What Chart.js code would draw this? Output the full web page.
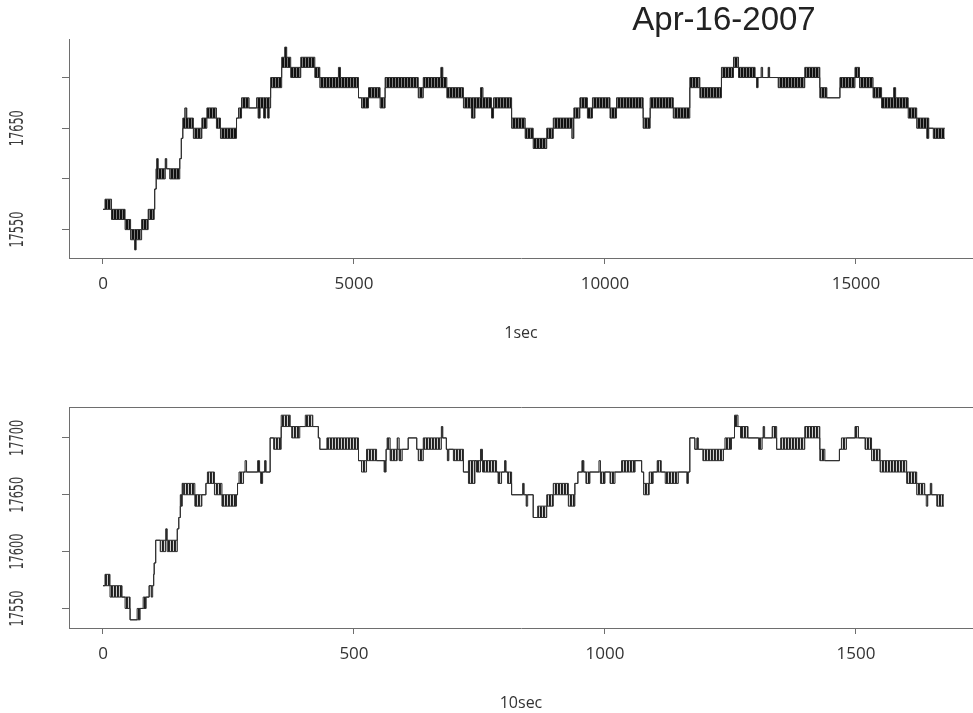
<!DOCTYPE html>
<html>
<head>
<meta charset="utf-8">
<title>Apr-16-2007</title>
<script src="https://cdn.jsdelivr.net/npm/chart.js@4.4.1/dist/chart.umd.min.js"></script>
<style>
  html, body { margin: 0; padding: 0; background: #fff; }
  #wrap { position: relative; width: 973px; height: 713px; overflow: hidden; }
  canvas { position: absolute; left: 0; }
  #oneSec { top: 0; }
  #tenSec { top: 360px; }
  #title {
    position: absolute; left: 574px; top: 2px; width: 300px; text-align: center;
    font: 33px "Liberation Sans", Arial, sans-serif; line-height: 33px; color: #222;
  }
</style>
</head>
<body>
<div id="wrap">
  <canvas id="oneSec" width="973" height="360"></canvas>
  <canvas id="tenSec" width="973" height="353"></canvas>
  <div id="title">Apr-16-2007</div>
</div>
<script>
// Price path sampled every second: [start second, low, high] of each stretch.
// Where low < high the price flickered between the two levels.
const oneSecSteps = [
  [0,17570,17570],[40,17570,17580],[170,17560,17570],[440,17550,17560],
  [550,17540,17550],[630,17530,17550],[660,17540,17550],[770,17550,17560],
  [900,17560,17570],[1020,17570,17570],[1030,17590,17590],[1060,17610,17610],
  [1070,17600,17620],[1100,17600,17610],[1240,17610,17620],[1270,17610,17610],
  [1330,17600,17610],[1530,17620,17620],[1560,17640,17640],[1590,17650,17660],
  [1630,17650,17670],[1670,17650,17660],[1800,17640,17650],[1970,17650,17660],
  [2070,17660,17670],[2260,17650,17660],[2340,17640,17650],[2660,17660,17660],
  [2700,17660,17670],[2760,17670,17680],[2910,17670,17670],[3060,17670,17680],
  [3090,17660,17680],[3130,17670,17680],[3200,17660,17680],[3240,17670,17680],
  [3280,17660,17680],[3310,17670,17680],[3340,17690,17700],[3560,17710,17720],
  [3620,17710,17730],[3660,17710,17720],[3740,17700,17710],[3940,17710,17720],
  [4220,17700,17710],[4320,17690,17700],[4690,17690,17710],[4730,17690,17700],
  [5090,17680,17680],[5150,17670,17680],[5290,17680,17690],[5520,17670,17680],
  [5620,17690,17700],[6280,17680,17690],[6380,17690,17700],[6730,17690,17710],
  [6770,17690,17700],[6850,17680,17690],[7180,17670,17680],[7340,17660,17680],
  [7410,17670,17680],[7520,17670,17690],[7570,17670,17680],[7740,17660,17670],
  [7780,17670,17680],[8140,17650,17660],[8410,17640,17650],[8570,17630,17640],
  [8840,17640,17650],[8970,17650,17660],[9340,17640,17660],[9380,17660,17670],
  [9500,17670,17680],[9650,17660,17670],[9750,17670,17680],[10100,17660,17670],
  [10230,17670,17680],[10760,17650,17660],[10900,17670,17680],[11360,17660,17670],
  [11690,17690,17700],[11890,17680,17690],[12320,17700,17710],[12560,17710,17720],
  [12660,17700,17710],[12990,17700,17700],[13020,17690,17700],[13050,17700,17700],
  [13110,17700,17710],[13140,17700,17700],[13250,17700,17710],[13280,17700,17700],
  [13450,17690,17700],[13980,17700,17710],[14280,17680,17690],[14420,17680,17680],
  [14680,17690,17700],[14980,17700,17710],[15070,17690,17700],[15340,17680,17690],
  [15510,17670,17680],[15750,17670,17690],[15790,17670,17680],[16040,17660,17670],
  [16210,17650,17660],[16410,17640,17660],[16450,17650,17650],[16540,17640,17650]
];
const oneSecEnd = 16770;

// Same session sampled every ten seconds: [start index, low, high].
const tenSecSteps = [
  [0,17570,17570],[4,17570,17580],[14,17560,17570],[38,17560,17560],
  [44,17550,17560],[54,17540,17540],[68,17540,17550],[74,17550,17550],
  [80,17550,17560],[86,17560,17560],[92,17570,17570],[96,17560,17570],
  [99,17570,17570],[101,17580,17580],[102,17590,17590],[105,17610,17610],
  [114,17600,17610],[125,17610,17620],[128,17600,17610],[148,17620,17620],
  [151,17630,17630],[154,17640,17650],[158,17660,17660],[160,17650,17660],
  [183,17640,17650],[197,17650,17650],[205,17660,17660],[208,17660,17670],
  [222,17650,17660],[237,17640,17650],[266,17650,17650],[268,17660,17660],
  [271,17660,17670],[280,17670,17670],[283,17670,17680],[286,17670,17670],
  [308,17670,17680],[312,17670,17670],[314,17660,17670],[318,17670,17670],
  [322,17670,17680],[325,17670,17670],[333,17700,17700],[340,17690,17700],
  [355,17710,17720],[373,17710,17710],[376,17700,17710],[392,17710,17710],
  [403,17710,17720],[418,17710,17710],[429,17700,17700],[432,17690,17690],
  [446,17690,17700],[509,17680,17680],[515,17670,17680],[525,17680,17690],
  [545,17680,17680],[560,17670,17680],[564,17690,17690],[566,17690,17700],
  [572,17680,17690],[586,17690,17700],[590,17680,17690],[596,17690,17690],
  [608,17700,17700],[625,17690,17690],[628,17680,17690],[638,17690,17700],
  [674,17700,17710],[677,17700,17700],[684,17690,17690],[686,17680,17690],
  [689,17690,17690],[698,17680,17690],[718,17670,17670],[728,17660,17680],
  [741,17680,17680],[744,17670,17680],[752,17680,17690],[756,17670,17680],
  [784,17670,17670],[787,17660,17670],[794,17670,17670],[800,17670,17680],
  [803,17670,17670],[806,17660,17670],[814,17650,17650],[836,17650,17660],
  [839,17650,17650],[843,17640,17650],[846,17650,17650],[857,17630,17630],
  [866,17630,17640],[884,17640,17650],[897,17650,17660],[927,17640,17650],
  [940,17660,17660],[946,17670,17670],[954,17670,17680],[958,17670,17670],
  [962,17660,17670],[970,17670,17670],[988,17670,17680],[991,17660,17670],
  [1000,17670,17670],[1010,17660,17670],[1020,17670,17670],[1033,17670,17680],
  [1060,17680,17680],[1073,17670,17670],[1077,17650,17660],[1088,17660,17670],
  [1096,17670,17670],[1104,17670,17680],[1112,17670,17670],[1120,17660,17670],
  [1146,17670,17670],[1163,17660,17670],[1166,17670,17670],[1169,17700,17700],
  [1179,17690,17690],[1183,17690,17700],[1186,17690,17690],[1195,17680,17690],
  [1236,17690,17690],[1239,17690,17700],[1252,17700,17700],[1258,17710,17720],
  [1265,17710,17710],[1270,17700,17710],[1285,17700,17700],[1306,17690,17700],
  [1313,17700,17700],[1315,17700,17710],[1318,17700,17700],[1333,17700,17710],
  [1342,17690,17690],[1350,17690,17700],[1398,17700,17710],[1428,17680,17690],
  [1438,17680,17680],[1467,17690,17690],[1471,17690,17700],[1481,17700,17700],
  [1498,17700,17710],[1505,17700,17700],[1518,17690,17700],[1531,17680,17690],
  [1548,17670,17680],[1601,17660,17670],[1621,17650,17660],[1637,17650,17650],
  [1640,17640,17650],[1643,17650,17650],[1648,17650,17660],[1651,17650,17650],
  [1661,17640,17650]
];
const tenSecEnd = 1675;

// Axis ticks and labels
const oneSecXTicks = [0, 5000, 10000, 15000];
const tenSecXTicks = [0, 500, 1000, 1500];
const priceTicks = [17550, 17600, 17650, 17700];
const oneSecPriceLabels = ['17550', '', '17650', ''];
const tenSecPriceLabels = ['17550', '17600', '17650', '17700'];

const LINE = '#2e2e2e';
const AXIS = '#6e6e6e';
const TEXT = '#333333';

// Vertical-stripe fill for stretches where the price flickered.
function stripes(colors) {
  const c = document.createElement('canvas');
  c.width = colors.length; c.height = 1;
  const g = c.getContext('2d');
  colors.forEach((col, i) => { g.fillStyle = col; g.fillRect(i, 0, 1, 1); });
  return g.createPattern(c, 'repeat');
}

// One column of the step table as a stepped line, held until `end`.
function envelope(steps, end, col) {
  const pts = steps.map(r => ({ x: r[0], y: r[col] }));
  pts.push({ x: end, y: steps[steps.length - 1][col] });
  return pts;
}

// Price labels written along the y axis, centred on their ticks.
const rotatedYLabels = {
  id: 'rotatedYLabels',
  afterDraw(chart, args, opts) {
    const ys = chart.scales.y;
    const ctx = chart.ctx;
    ctx.save();
    ctx.fillStyle = opts.color;
    ctx.font = opts.font;
    ctx.textAlign = 'center';
    ctx.textBaseline = 'middle';
    opts.values.forEach((v, i) => {
      const text = opts.labels[i];
      if (!text) return;
      const y = ys.getPixelForValue(v);
      ctx.save();
      ctx.translate(opts.x, y);
      ctx.rotate(-Math.PI / 2);
      const w = ctx.measureText(text).width;
      ctx.scale(opts.length / w, 1);
      ctx.fillText(text, 0, 0);
      ctx.restore();
    });
    ctx.restore();
  }
};

function panel(id, o) {
  const scales = {
    x: {
      type: 'linear', min: o.xMin, max: o.xMax,
      afterBuildTicks: s => { s.ticks = o.xTicks.map(v => ({ value: v })); },
      afterFit: s => { s.height = o.xHeight; },
      ticks: {
        autoSkip: false, maxRotation: 0, padding: o.tickPad, color: TEXT,
        font: { family: 'Open Sans', size: 17 },
        callback: v => String(v)
      },
      grid: { drawOnChartArea: false, drawTicks: true, tickLength: 6, color: AXIS },
      border: { display: true, color: AXIS, width: 1 },
      title: {
        display: true, text: o.xTitle, color: TEXT,
        font: { family: 'Open Sans', size: 16 },
        padding: { top: 0, bottom: o.titlePad }
      }
    },
    y: {
      type: 'linear', position: 'left', min: o.yMin, max: o.yMax,
      afterBuildTicks: s => { s.ticks = priceTicks.map(v => ({ value: v })); },
      afterFit: s => { s.width = 69; },
      ticks: { display: false },
      grid: { drawOnChartArea: false, drawTicks: true, tickLength: 7, color: AXIS },
      border: { display: true, color: AXIS, width: 1 }
    }
  };
  if (o.boxTop) {
    scales.xTop = {
      type: 'linear', position: 'top', axis: 'x', min: o.xMin, max: o.xMax,
      afterFit: s => { s.height = 0; },
      ticks: { display: false },
      grid: { display: false },
      border: { display: true, color: AXIS, width: 1 }
    };
  }
  return new Chart(document.getElementById(id), {
    type: 'line',
    data: {
      datasets: [
        { data: envelope(o.steps, o.end, 2), stepped: true, borderColor: LINE,
          borderWidth: 1, pointRadius: 0, fill: false },
        { data: envelope(o.steps, o.end, 1), stepped: true, borderColor: LINE,
          borderWidth: 1, pointRadius: 0, fill: '-1', backgroundColor: o.fill }
      ]
    },
    options: {
      responsive: false, animation: false, events: [],
      parsing: false,
      layout: { padding: { top: o.padTop, left: 0, right: 0, bottom: 0 } },
      plugins: {
        legend: { display: false },
        tooltip: { enabled: false },
        rotatedYLabels: {
          values: priceTicks, labels: o.yLabels, x: 18, length: 36,
          color: '#3a3a3a', font: '20px "DejaVu Sans Condensed", "Liberation Sans Narrow", sans-serif'
        }
      },
      scales
    },
    plugins: [rotatedYLabels]
  });
}

panel('oneSec', {
  steps: oneSecSteps, end: oneSecEnd, xTicks: oneSecXTicks, xTitle: '1sec',
  xMin: -677, xMax: 17331, yMin: 17522, yMax: 17738,
  padTop: 39, xHeight: 102, tickPad: 10, titlePad: 17,
  yLabels: oneSecPriceLabels, boxTop: false,
  fill: stripes(['#111111', '#111111', '#7a7a7a'])
});

panel('tenSec', {
  steps: tenSecSteps, end: tenSecEnd, xTicks: tenSecXTicks, xTitle: '10sec',
  xMin: -67.7, xMax: 1733.1, yMin: 17532.8, yMax: 17727.2,
  padTop: 47, xHeight: 85, tickPad: 10, titlePad: 0,
  yLabels: tenSecPriceLabels, boxTop: true,
  fill: stripes(['#1e1e1e', '#2a2a2a', '#d0d0d0'])
});
</script>
</body>
</html>
